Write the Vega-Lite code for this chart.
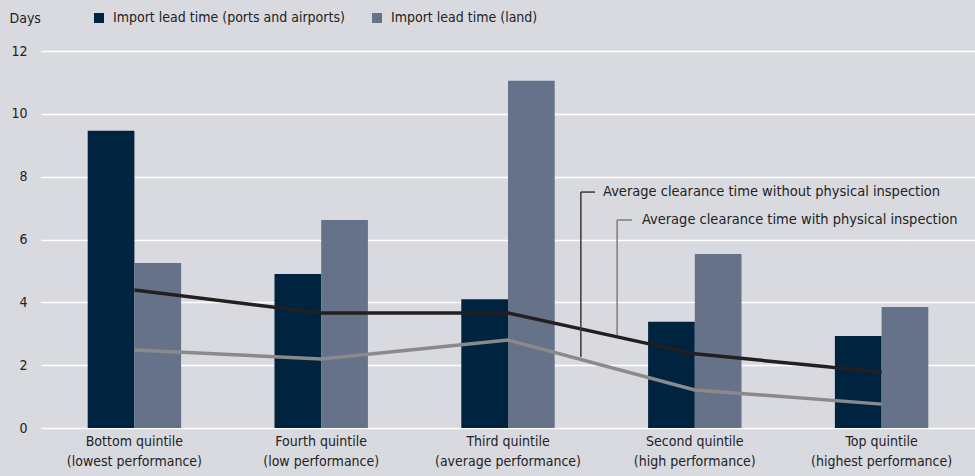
{
  "$schema": "https://vega.github.io/schema/vega-lite/v6.json",
  "width": 934,
  "height": 377,
  "autosize": {"type": "none"},
  "padding": {"left": 41, "top": 51, "right": 0, "bottom": 48},
  "background": "#d9dadf",
  "config": {
    "view": {"stroke": null},
    "font": "DejaVu Sans Condensed, sans-serif"
  },
  "datasets": {
    "bars": [
      {"cat": "Bottom quintile|(lowest performance)", "series": "Import lead time (ports and airports)", "value": 9.46},
      {"cat": "Bottom quintile|(lowest performance)", "series": "Import lead time (land)", "value": 5.25},
      {"cat": "Fourth quintile|(low performance)", "series": "Import lead time (ports and airports)", "value": 4.9},
      {"cat": "Fourth quintile|(low performance)", "series": "Import lead time (land)", "value": 6.62},
      {"cat": "Third quintile|(average performance)", "series": "Import lead time (ports and airports)", "value": 4.1},
      {"cat": "Third quintile|(average performance)", "series": "Import lead time (land)", "value": 11.05},
      {"cat": "Second quintile|(high performance)", "series": "Import lead time (ports and airports)", "value": 3.38},
      {"cat": "Second quintile|(high performance)", "series": "Import lead time (land)", "value": 5.54},
      {"cat": "Top quintile|(highest performance)", "series": "Import lead time (ports and airports)", "value": 2.93},
      {"cat": "Top quintile|(highest performance)", "series": "Import lead time (land)", "value": 3.85}
    ],
    "lines": [
      {"cat": "Bottom quintile|(lowest performance)", "series": "with", "value": 4.39},
      {"cat": "Fourth quintile|(low performance)", "series": "with", "value": 3.66},
      {"cat": "Third quintile|(average performance)", "series": "with", "value": 3.66},
      {"cat": "Second quintile|(high performance)", "series": "with", "value": 2.36},
      {"cat": "Top quintile|(highest performance)", "series": "with", "value": 1.78},
      {"cat": "Bottom quintile|(lowest performance)", "series": "without", "value": 2.48},
      {"cat": "Fourth quintile|(low performance)", "series": "without", "value": 2.2},
      {"cat": "Third quintile|(average performance)", "series": "without", "value": 2.8},
      {"cat": "Second quintile|(high performance)", "series": "without", "value": 1.21},
      {"cat": "Top quintile|(highest performance)", "series": "without", "value": 0.76}
    ],
    "leaders": [
      {"series": "without", "x": 2.89, "x2": 2.89, "y": 7.51, "y2": 2.26},
      {"series": "without", "x": 2.89, "x2": 2.966, "y": 7.51, "y2": 7.51},
      {"series": "with", "x": 3.084, "x2": 3.084, "y": 6.62, "y2": 2.96},
      {"series": "with", "x": 3.084, "x2": 3.164, "y": 6.62, "y2": 6.62}
    ],
    "labels": [
      {"x": 3.009, "y": 7.51, "text": "Average clearance time without physical inspection"},
      {"x": 3.217, "y": 6.62, "text": "Average clearance time with physical inspection"}
    ]
  },
  "layer": [
    {
      "layer": [
        {
          "data": {"name": "bars"},
          "mark": {"type": "bar"},
          "encoding": {
            "x": {
              "field": "cat", "type": "nominal", "sort": null,
              "scale": {"paddingInner": 0.5, "paddingOuter": 0.25},
              "axis": {
                "title": null, "labelExpr": "split(datum.label, '|')",
                "domain": false, "ticks": false, "labelAngle": 0,
                "labelPadding": 6, "labelFontSize": 14, "labelLineHeight": 20,
                "labelColor": "#222222", "labelLimit": 0
              }
            },
            "xOffset": {
              "field": "series", "type": "nominal",
              "scale": {"domain": ["Import lead time (ports and airports)", "Import lead time (land)"]}
            },
            "y": {
              "field": "value", "type": "quantitative", "title": "Days",
              "scale": {"domain": [0, 12], "nice": false},
              "axis": {
                "values": [0, 2, 4, 6, 8, 10, 12],
                "grid": true, "gridColor": "#ffffff", "gridWidth": 1.5,
                "domain": false, "ticks": false,
                "labelPadding": 14, "labelFontSize": 14, "labelColor": "#222222",
                "titleAngle": 0, "titleX": -32, "titleY": -33,
                "titleAlign": "left", "titleBaseline": "middle",
                "titleFontWeight": "normal", "titleFontSize": 14, "titleColor": "#222222"
              }
            },
            "color": {
              "field": "series", "type": "nominal",
              "scale": {
                "domain": ["Import lead time (ports and airports)", "Import lead time (land)"],
                "range": ["#00233f", "#65728a"]
              },
              "legend": {
                "orient": "none", "legendX": 51, "legendY": -40,
                "direction": "horizontal", "title": null,
                "symbolType": "square", "symbolSize": 100, "symbolStrokeWidth": 0,
                "labelFontSize": 14, "labelColor": "#222222", "labelLimit": 0,
                "columnPadding": 25, "labelOffset": 7
              }
            }
          }
        },
        {
          "data": {"name": "lines"},
          "transform": [{"filter": "datum.series === 'with'"}],
          "mark": {"type": "line", "color": "#231f20", "strokeWidth": 3.5},
          "encoding": {
            "x": {"field": "cat", "type": "nominal", "sort": null},
            "y": {"field": "value", "type": "quantitative", "title": "Days"}
          }
        },
        {
          "data": {"name": "lines"},
          "transform": [{"filter": "datum.series === 'without'"}],
          "mark": {"type": "line", "color": "#8a8a8a", "strokeWidth": 3.5},
          "encoding": {
            "x": {"field": "cat", "type": "nominal", "sort": null},
            "y": {"field": "value", "type": "quantitative", "title": "Days"}
          }
        }
      ]
    },
    {
      "layer": [
        {
          "data": {"name": "leaders"},
          "mark": {"type": "rule", "strokeWidth": 1.5},
          "encoding": {
            "x": {"field": "x", "type": "quantitative", "scale": {"domain": [0, 5], "nice": false, "zero": false}, "axis": null},
            "x2": {"field": "x2"},
            "y": {"field": "y", "type": "quantitative", "title": "Days"},
            "y2": {"field": "y2"},
            "stroke": {
              "field": "series", "type": "nominal",
              "scale": {"domain": ["without", "with"], "range": ["#3a3a3a", "#7f7f7f"]},
              "legend": null
            }
          }
        },
        {
          "data": {"name": "labels"},
          "mark": {"type": "text", "align": "left", "baseline": "middle", "fontSize": 14.5, "color": "#222222"},
          "encoding": {
            "x": {"field": "x", "type": "quantitative", "axis": null},
            "y": {"field": "y", "type": "quantitative", "title": "Days"},
            "text": {"field": "text"}
          }
        }
      ]
    }
  ],
  "resolve": {"scale": {"x": "independent"}, "axis": {"x": "independent"}}
}
